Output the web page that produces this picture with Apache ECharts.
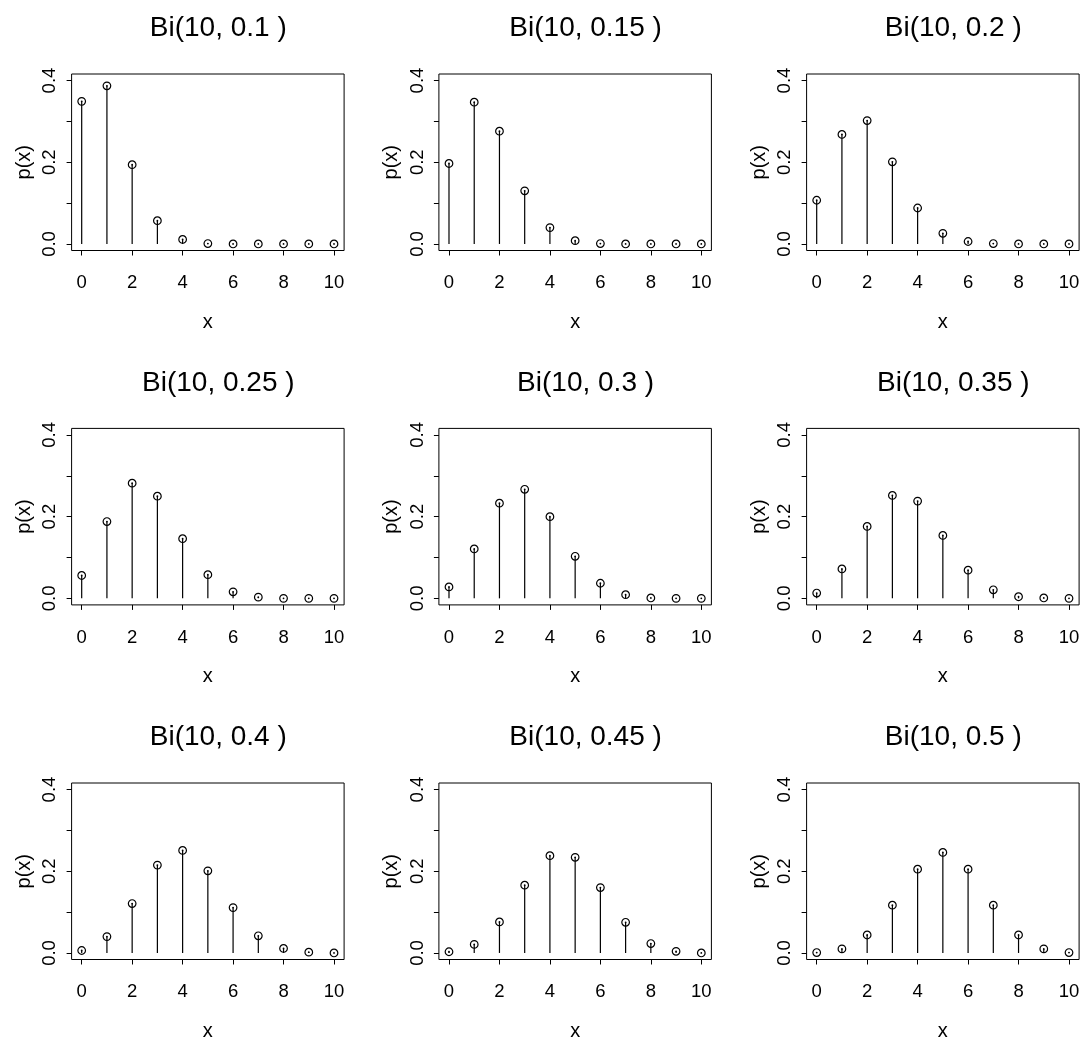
<!DOCTYPE html>
<html>
<head>
<meta charset="utf-8">
<script src="https://cdn.jsdelivr.net/npm/echarts@6/dist/echarts.min.js"></script>
<style>
html,body{margin:0;padding:0;background:#ffffff;}
#chart{width:1084px;height:1038px;}
</style>
</head>
<body>
<div id="chart"></div>
<script>
// ---------- data ----------
const xValues = [0, 1, 2, 3, 4, 5, 6, 7, 8, 9, 10];
const panelTitles = ['Bi(10, 0.1 )', 'Bi(10, 0.15 )', 'Bi(10, 0.2 )',
                     'Bi(10, 0.25 )', 'Bi(10, 0.3 )', 'Bi(10, 0.35 )',
                     'Bi(10, 0.4 )', 'Bi(10, 0.45 )', 'Bi(10, 0.5 )'];
const p010 = [0.349, 0.387, 0.194, 0.057, 0.011, 0.001, 0.000, 0.000, 0.000, 0.000, 0.000];
const p015 = [0.197, 0.347, 0.276, 0.130, 0.040, 0.008, 0.001, 0.000, 0.000, 0.000, 0.000];
const p020 = [0.107, 0.268, 0.302, 0.201, 0.088, 0.026, 0.006, 0.001, 0.000, 0.000, 0.000];
const p025 = [0.056, 0.188, 0.282, 0.250, 0.146, 0.058, 0.016, 0.003, 0.000, 0.000, 0.000];
const p030 = [0.028, 0.121, 0.233, 0.267, 0.200, 0.103, 0.037, 0.009, 0.001, 0.000, 0.000];
const p035 = [0.013, 0.072, 0.176, 0.252, 0.238, 0.154, 0.069, 0.021, 0.004, 0.001, 0.000];
const p040 = [0.006, 0.040, 0.121, 0.215, 0.251, 0.201, 0.111, 0.042, 0.011, 0.002, 0.000];
const p045 = [0.003, 0.021, 0.076, 0.166, 0.238, 0.234, 0.160, 0.075, 0.023, 0.004, 0.000];
const p050 = [0.001, 0.010, 0.044, 0.117, 0.205, 0.246, 0.205, 0.117, 0.044, 0.010, 0.001];
const panelValues = [p010, p015, p020, p025, p030, p035, p040, p045, p050];
const yTickValues = [0, 0.1, 0.2, 0.3, 0.4];
const yLabelValues = [0, 0.2, 0.4];
const xTickValues = [0, 2, 4, 6, 8, 10];
const xAxisTitle = 'x';
const yAxisTitle = 'p(x)';

// ---------- layout ----------
const FONT = "'Liberation Sans', Arial, Helvetica, sans-serif";
const colOffset = [0, 367.3, 735];
const rowOffset = [0, 354.4, 709];
const boxLeft = 71.6, boxTop = 74, boxW = 272.5, boxH = 176.5;
const titleCx = 218.3, titleTop = 14.5;

const chart = echarts.init(document.getElementById('chart'), null, {renderer: 'canvas'});

const grids = [], xAxes = [], yAxes = [], series = [], titles = [];
panelValues.forEach((vals, i) => {
  const r = Math.floor(i / 3), c = i % 3;
  const dx = colOffset[c], dy = rowOffset[r];
  titles.push({
    text: panelTitles[i],
    left: titleCx + dx,
    top: titleTop + dy,
    padding: 0,
    textAlign: 'center',
    textVerticalAlign: 'top',
    textStyle: {fontFamily: FONT, fontSize: 28, fontWeight: 'normal', color: '#000', lineHeight: 28}
  });
  grids.push({
    left: boxLeft + dx, top: boxTop + dy, width: boxW, height: boxH,
    show: true, borderColor: '#000', borderWidth: 1, backgroundColor: 'transparent',
    containLabel: false, outerBoundsMode: 'none'
  });
  xAxes.push({
    type: 'value', gridIndex: i, min: -0.4, max: 10.4, position: 'bottom',
    name: xAxisTitle, nameLocation: 'middle', nameGap: 61.7,
    nameTextStyle: {fontFamily: FONT, fontSize: 20, color: '#000', lineHeight: 20},
    axisLine: {show: false, onZero: false},
    splitLine: {show: false},
    axisTick: {show: true, inside: false, length: 5, customValues: xTickValues,
               lineStyle: {color: '#000', width: 1}},
    axisLabel: {show: true, customValues: xTickValues, margin: 23.6,
                fontFamily: FONT, fontSize: 18.5, color: '#000', lineHeight: 18.5,
                formatter: v => String(v)}
  });
  yAxes.push({
    type: 'value', gridIndex: i, min: -0.016, max: 0.416, position: 'left',
    name: yAxisTitle, nameLocation: 'middle', nameGap: 37.5, nameRotate: 90,
    nameTextStyle: {fontFamily: FONT, fontSize: 20, color: '#000', lineHeight: 20},
    axisLine: {show: false, onZero: false},
    splitLine: {show: false},
    axisTick: {show: true, inside: false, length: 5, customValues: yTickValues,
               lineStyle: {color: '#000', width: 1}},
    axisLabel: {show: true, customValues: yLabelValues, rotate: 90, margin: 12.1,
                fontFamily: FONT, fontSize: 18.5, color: '#000', lineHeight: 18.5,
                formatter: v => v.toFixed(1)}
  });
  const pts = xValues.map((x, k) => [x, vals[k]]);
  series.push({
    type: 'custom', xAxisIndex: i, yAxisIndex: i, coordinateSystem: 'cartesian2d',
    data: pts, encode: {x: 0, y: 1}, silent: true,
    renderItem: (params, api) => {
      const x = api.value(0), y = api.value(1);
      const a = api.coord([x, 0]), b = api.coord([x, y]);
      return {
        type: 'group',
        children: [
          {type: 'line', shape: {x1: a[0], y1: a[1], x2: b[0], y2: b[1]},
           style: {stroke: '#000', lineWidth: 1.2}},
          {type: 'circle', shape: {cx: b[0], cy: b[1], r: 0.9}, style: {fill: '#000'}}
        ]
      };
    }
  });
  series.push({
    type: 'scatter', xAxisIndex: i, yAxisIndex: i, data: pts,
    symbol: 'circle', symbolSize: 7.6, silent: true,
    itemStyle: {color: 'rgba(0,0,0,0)', borderColor: '#000', borderWidth: 1.2, opacity: 1},
    emphasis: {disabled: true}
  });
});

chart.setOption({
  backgroundColor: '#ffffff',
  animation: false,
  title: titles,
  grid: grids,
  xAxis: xAxes,
  yAxis: yAxes,
  series: series
});
</script>
</body>
</html>
